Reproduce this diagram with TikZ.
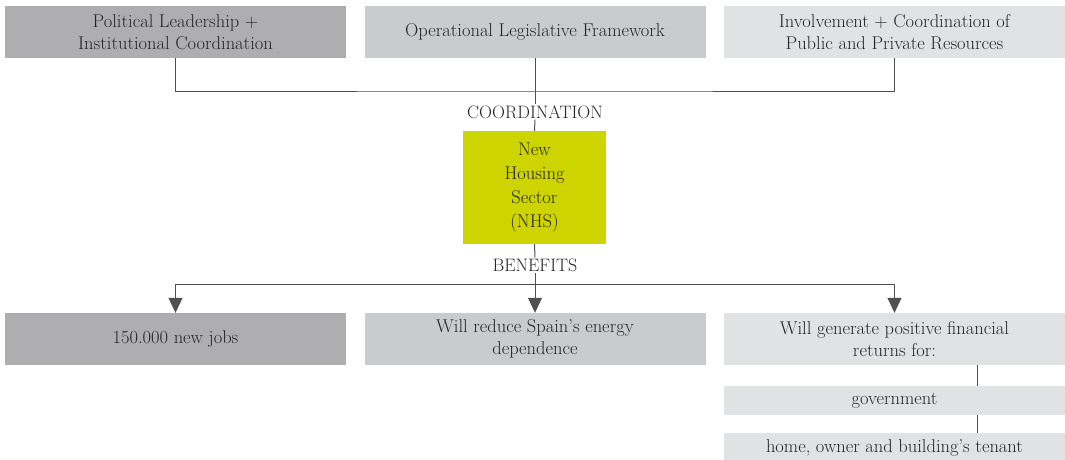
\documentclass[tikz,border=0pt]{standalone}
\usepackage{xcolor}
\usepackage{tikz}
\usetikzlibrary{arrows.meta, positioning, calc}

\definecolor{boxdark}{HTML}{AEAEB0}
\definecolor{boxmid}{HTML}{CACBCD}
\definecolor{boxlight}{HTML}{E1E2E3}
\definecolor{nhsgreen}{HTML}{CDD400}
\definecolor{inkgray}{HTML}{262626}
\definecolor{linegray}{HTML}{505050}

\begin{document}
\begin{tikzpicture}[
    x=1pt, y=-1pt,
    panel/.style={rectangle, inner sep=0pt, minimum width=341pt, minimum height=52pt, align=center, text=inkgray, font=\fontsize{18.5}{22}\selectfont},
    subpanel/.style={panel, fill=boxlight, minimum height=29pt},
    label/.style={inner sep=1pt, text=inkgray, font=\fontsize{18}{20}\selectfont},
    link/.style={draw=linegray, line width=1pt},
    arrow/.style={link, -{Triangle[width=14pt, length=15pt]}}
]
\useasboundingbox (0,0) rectangle (1065,460);

% Top row
\node[panel, fill=boxdark] (leadership) at (175.5, 32) {Political Leadership +\\Institutional Coordination};
\node[panel, fill=boxmid] (framework) at (535, 32) {Operational Legislative Framework};
\node[panel, fill=boxlight] (resources) at (894.5, 32) {Involvement + Coordination of\\Public and Private Resources};

% Centre
\coordinate (hub) at (535, 91);
\node[label] (coordination) at (535, 112) {COORDINATION};
\node[panel, fill=nhsgreen, minimum width=143pt, minimum height=113pt, font=\fontsize{18.5}{24}\selectfont] (nhs) at (534.5, 187.5) {New\\Housing\\Sector\\(NHS)};
\node[label] (benefits) at (535, 265) {BENEFITS};
\coordinate (split) at (535, 284);

% Bottom row
\node[panel, fill=boxdark] (jobs) at (175.5, 339) {150.000 new jobs};
\node[panel, fill=boxmid] (energy) at (535, 339) {Will reduce Spain's energy\\dependence};
\node[panel, fill=boxlight] (returns) at (894.5, 339) {Will generate positive financial\\returns for:};
\node[subpanel] (government) at (894.5, 400.5) {government};
\node[subpanel, minimum height=30pt] (tenant) at (894.5, 448) {home, owner and building's tenant};

% Connections
\draw[link] (leadership.south) |- (hub) -| (resources.south);
\draw[link] (framework.south) -- (coordination.north);
\draw[link] (coordination.south) -- (nhs.north);
\draw[link] (nhs.south) -- (benefits.north);
\draw[arrow] (benefits.south) -- (energy.north);
\draw[arrow] (split) -| (jobs.north);
\draw[arrow] (split) -| (returns.north);

\draw[link] (returns.south -| 977,0) -- (government.north -| 977,0);
\draw[link] (government.south -| 977,0) -- (tenant.north -| 977,0);

\end{tikzpicture}
\end{document}
